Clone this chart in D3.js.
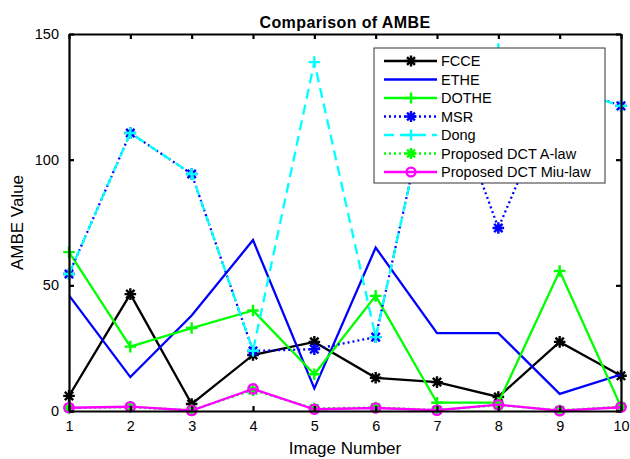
<!DOCTYPE html>
<html>
<head>
<meta charset="utf-8">
<script src="https://cdn.jsdelivr.net/npm/d3@7"></script>
<style>
  body { margin: 0; background: #fff; }
  text { font-family: "Liberation Sans", Arial, sans-serif; }
</style>
</head>
<body>
<svg id="chart" width="630" height="459"></svg>
<script>
const imageNumbers = [1, 2, 3, 4, 5, 6, 7, 8, 9, 10];
const yTicks = [0, 50, 100, 150];

const fcce = [6, 46.5, 2.8, 22.3, 27.5, 13.2, 11.5, 5.6, 27.5, 14];
const ethe = [46, 13.5, 38, 68, 9, 65, 31, 31, 6.8, 14.5];
const dothe = [63.2, 25.6, 33, 40, 14.6, 45.8, 3.3, 3.3, 55.7, 1.7];
const msr = [54.5, 110.6, 94.3, 23.9, 24.6, 29.4, 140, 72.8, 130, 121.4];
const dong = [54.5, 110.6, 94.3, 24, 138.8, 29.4, 140, 144, 129, 121.4];
const aLaw = [1.2, 1.5, 0.3, 8.3, 1.0, 1.4, 0.4, 2.3, 0.3, 1.7];
const miuLaw = [1.3, 1.7, 0.2, 8.8, 0.7, 1.2, 0.3, 2.5, 0.1, 1.5];

const series = [
  { name: "FCCE", values: fcce, color: "#000000", dash: null, marker: "star" },
  { name: "ETHE", values: ethe, color: "#0000ff", dash: null, marker: null },
  { name: "DOTHE", values: dothe, color: "#00ff00", dash: null, marker: "plus" },
  { name: "MSR", values: msr, color: "#0000ff", dash: "2,3", marker: "star" },
  { name: "Dong", values: dong, color: "#00ffff", dash: "10,6", marker: "plus" },
  { name: "Proposed DCT A-law", values: aLaw, color: "#00ff00", dash: "2,3", marker: "star" },
  { name: "Proposed DCT Miu-law", values: miuLaw, color: "#ff00ff", dash: null, marker: "circle" },
];

const margin = { top: 34, right: 9, bottom: 48, left: 69 };
const width = 630, height = 459;
const svg = d3.select("#chart");

const x = d3.scaleLinear().domain([1, 10]).range([margin.left, width - margin.right]);
const y = d3.scaleLinear().domain([0, 150]).range([height - margin.bottom, margin.top]);

svg.append("defs").append("clipPath").attr("id", "plot-clip")
  .append("rect")
  .attr("x", margin.left).attr("y", margin.top)
  .attr("width", x.range()[1] - x.range()[0])
  .attr("height", y.range()[0] - y.range()[1]);

function drawMarker(g, type, cx, cy, color, r) {
  if (type === "star") {
    const d = r * 0.72;
    g.append("path")
      .attr("d", `M${cx - r},${cy}H${cx + r}M${cx},${cy - r}V${cy + r}` +
        `M${cx - d},${cy - d}L${cx + d},${cy + d}M${cx - d},${cy + d}L${cx + d},${cy - d}`)
      .attr("stroke", color).attr("stroke-width", 2.4).attr("fill", "none");
  } else if (type === "plus") {
    g.append("path")
      .attr("d", `M${cx - r},${cy}H${cx + r}M${cx},${cy - r}V${cy + r}`)
      .attr("stroke", color).attr("stroke-width", 2.4).attr("fill", "none");
  } else if (type === "circle") {
    g.append("circle")
      .attr("cx", cx).attr("cy", cy).attr("r", r * 0.8)
      .attr("stroke", color).attr("stroke-width", 2.4).attr("fill", "none");
  }
}

const line = d3.line()
  .x((d, i) => x(imageNumbers[i]))
  .y((d) => y(d));

const plot = svg.append("g");
series.forEach((s) => {
  plot.append("path")
    .datum(s.values)
    .attr("clip-path", "url(#plot-clip)")
    .attr("d", line)
    .attr("fill", "none")
    .attr("stroke", s.color)
    .attr("stroke-width", 2.3)
    .attr("stroke-dasharray", s.dash);
  if (s.marker) {
    const mg = plot.append("g");
    s.values.forEach((v, i) => {
      if (v <= 150) drawMarker(mg, s.marker, x(imageNumbers[i]), y(v), s.color, 5.8);
    });
  }
});

// axes box, ticks inward on all sides
const axisFont = "14.5px";
const bottomAxis = svg.append("g")
  .attr("transform", `translate(0,${y(0)})`)
  .call(d3.axisBottom(x).tickValues(imageNumbers).tickSizeInner(-5).tickSizeOuter(0).tickPadding(10));
const topAxis = svg.append("g")
  .attr("transform", `translate(0,${y(150)})`)
  .call(d3.axisTop(x).tickValues(imageNumbers).tickSizeInner(-5).tickSizeOuter(0).tickFormat(""));
const leftAxis = svg.append("g")
  .attr("transform", `translate(${x(1)},0)`)
  .call(d3.axisLeft(y).tickValues(yTicks).tickSizeInner(-5).tickSizeOuter(0).tickPadding(10));
const rightAxis = svg.append("g")
  .attr("transform", `translate(${x(10)},0)`)
  .call(d3.axisRight(y).tickValues(yTicks).tickSizeInner(-5).tickSizeOuter(0).tickFormat(""));

[bottomAxis, topAxis, leftAxis, rightAxis].forEach((a) => {
  a.select(".domain").attr("stroke", "#000").attr("stroke-width", 2.2);
  a.selectAll(".tick line").attr("stroke", "#000").attr("stroke-width", 2.2);
  a.selectAll("text")
    .attr("fill", "#000")
    .style("font-family", "'Liberation Sans', Arial, sans-serif")
    .style("font-size", axisFont);
});

// legend
const legend = svg.append("g").attr("transform", "translate(374,48)");
legend.append("rect")
  .attr("x", 0).attr("y", 0).attr("width", 231).attr("height", 135)
  .attr("fill", "#fff").attr("stroke", "#333").attr("stroke-width", 1);
series.forEach((s, i) => {
  const ly = 13 + i * 18.5;
  legend.append("line")
    .attr("x1", 10).attr("x2", 63).attr("y1", ly).attr("y2", ly)
    .attr("stroke", s.color).attr("stroke-width", 2.3)
    .attr("stroke-dasharray", s.dash);
  if (s.marker) drawMarker(legend, s.marker, 37, ly, s.color, 5.5);
  legend.append("text")
    .attr("x", 67).attr("y", ly + 5)
    .style("font-size", "14.5px")
    .attr("fill", "#000")
    .text(s.name);
});

// title and axis labels
svg.append("text")
  .attr("x", (x(1) + x(10)) / 2).attr("y", 28)
  .attr("text-anchor", "middle")
  .style("font-size", "16px").style("font-weight", "bold")
  .style("letter-spacing", "0.4px")
  .text("Comparison of AMBE");

svg.append("text")
  .attr("x", (x(1) + x(10)) / 2).attr("y", 454)
  .attr("text-anchor", "middle")
  .style("font-size", "17px")
  .text("Image Number");

svg.append("text")
  .attr("transform", `translate(23,${(y(0) + y(150)) / 2}) rotate(-90)`)
  .attr("text-anchor", "middle")
  .style("font-size", "17px")
  .text("AMBE Value");
</script>
</body>
</html>
